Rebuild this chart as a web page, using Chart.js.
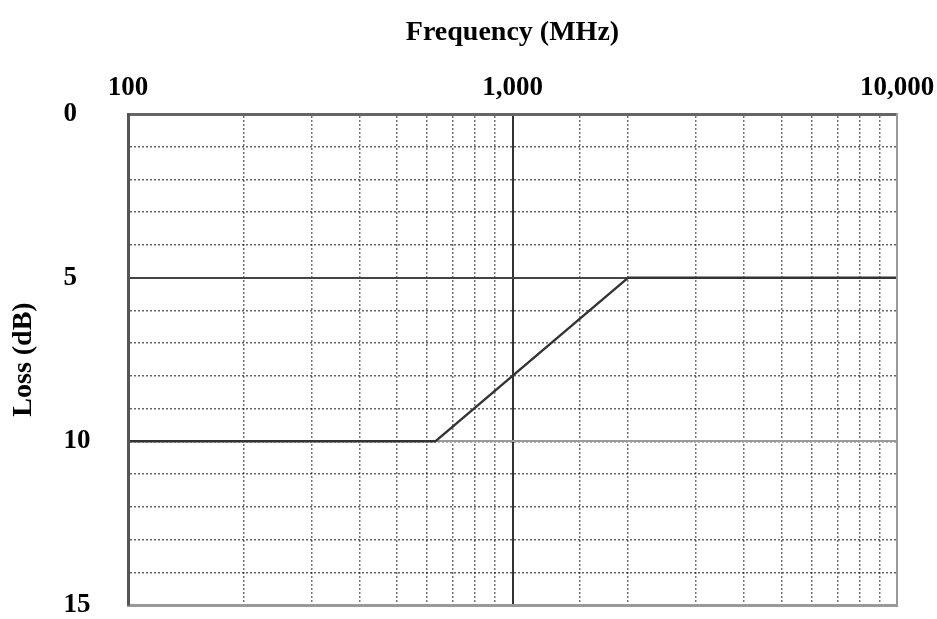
<!DOCTYPE html>
<html>
<head>
<meta charset="utf-8">
<script src="https://cdn.jsdelivr.net/npm/chart.js@4/dist/chart.umd.min.js"></script>
<style>
  html, body { margin: 0; padding: 0; background: #fff; }
  #wrap { width: 937px; height: 619px; }
</style>
</head>
<body>
<div id="wrap"><canvas id="lossChart" width="937" height="619"></canvas></div>
<script>
// Frequency / loss curve
const freqMHz = [100, 630, 2000, 10000];
const lossDb = [10, 10, 5, 5];

// tick labels that are written out
const freqLabels = [100, 1000, 10000];
const lossLabels = [0, 5, 10, 15];

// lines drawn solid instead of dotted
const solidFreq = [1000];
const solidLoss = [5, 10];

const serif = 'Liberation Serif, Times New Roman, serif';

const ctx = document.getElementById('lossChart').getContext('2d');
new Chart(ctx, {
    type: 'line',
    data: {
        datasets: [{
            label: 'Loss',
            data: freqMHz.map((f, i) => ({ x: f, y: lossDb[i] })),
            borderColor: '#333',
            borderWidth: 2.5,
            pointRadius: 0,
            tension: 0,
            fill: false
        }]
    },
    options: {
        responsive: false,
        animation: false,
        layout: {
            padding: { top: 4, left: 0, right: 40, bottom: 14 }
        },
        plugins: {
            legend: { display: false },
            tooltip: { enabled: false },
            title: {
                display: true,
                position: 'left',
                fullSize: false,
                text: 'Loss (dB)',
                color: '#000',
                font: { family: serif, size: 28, weight: 'bold' },
                padding: { top: 7, bottom: 23 }
            }
        },
        scales: {
            x: {
                type: 'logarithmic',
                position: 'top',
                min: 100,
                max: 10000,
                afterFit: function(scale) {
                    // let the last label hang into the right margin
                    scale.paddingRight = 0;
                },
                ticks: {
                    autoSkip: false,
                    maxRotation: 0,
                    padding: 10,
                    color: '#000',
                    font: { family: serif, size: 27, weight: 'bold' },
                    callback: function(value) {
                        return freqLabels.includes(value) ? value.toLocaleString('en-US') : '';
                    }
                },
                grid: {
                    color: 'rgba(0, 0, 0, 0.55)',
                    lineWidth: 1.5,
                    drawTicks: false
                },
                border: { color: '#666', width: 3, dash: [2, 2], z: 1 },
                title: {
                    display: true,
                    text: 'Frequency (MHz)',
                    color: '#000',
                    font: { family: serif, size: 28, weight: 'bold' },
                    padding: { top: 12, bottom: 12 }
                }
            },
            x2: {
                type: 'logarithmic',
                position: 'bottom',
                min: 100,
                max: 10000,
                afterBuildTicks: function(scale) {
                    scale.ticks = solidFreq.map(v => ({ value: v }));
                },
                ticks: { display: false },
                grid: { color: '#333', lineWidth: 2, drawTicks: false },
                border: { color: '#999', width: 3, z: 1 }
            },
            y: {
                type: 'linear',
                position: 'left',
                reverse: true,
                min: 0,
                max: 15,
                afterFit: function(scale) {
                    scale.width = 64.4;
                    scale.paddingBottom = 0;
                },
                ticks: {
                    stepSize: 1,
                    autoSkip: false,
                    crossAlign: 'far',
                    color: '#000',
                    font: { family: serif, size: 27, weight: 'bold', lineHeight: 1 },
                    callback: function(value) {
                        return lossLabels.includes(value) ? String(value) : '';
                    }
                },
                grid: {
                    color: 'rgba(0, 0, 0, 0.6)',
                    lineWidth: 1.5,
                    drawTicks: false
                },
                border: { color: '#555', width: 3, dash: [2, 2], z: 1 }
            },
            y2: {
                type: 'linear',
                position: 'right',
                reverse: true,
                min: 0,
                max: 15,
                afterBuildTicks: function(scale) {
                    scale.ticks = solidLoss.map(v => ({ value: v }));
                },
                ticks: { display: false },
                grid: {
                    color: function(c) {
                        return c.tick && c.tick.value === 5 ? '#444' : '#9a9a9a';
                    },
                    lineWidth: 2,
                    drawTicks: false
                },
                border: { color: '#999', width: 2, z: 1 }
            }
        }
    }
});
</script>
</body>
</html>
